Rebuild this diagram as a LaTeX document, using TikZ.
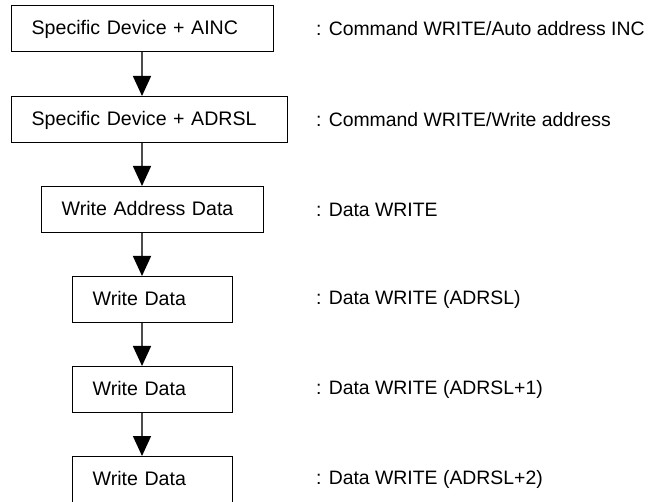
\documentclass[tikz,border=0pt]{standalone}
\usepackage{fontspec}
\setmainfont{Liberation Sans}
\usetikzlibrary{arrows.meta}
\begin{document}
\begin{tikzpicture}[x=1pt,y=-1pt,
  box/.style={draw=black, line width=1.3pt, minimum height=46pt, inner xsep=20pt, inner ysep=0pt,
    align=left, anchor=north west, text depth=3pt, text height=14pt, font=\fontsize{19.6}{23}\selectfont},
  lbl/.style={anchor=west, inner sep=0pt, font=\fontsize{19.4}{23}\selectfont},
  arr/.style={draw=black!70, line width=1.5pt, -{Triangle[width=18pt,length=20pt,color=black]}}]
\useasboundingbox (0,0) rectangle (653,502);
\coordinate (ax) at (142,0);
\coordinate (lx) at (316,0);
\node[box, text width=222pt] (b1) at (11,5) {Specific Device + AINC};
\node[box, text width=236pt] (b2) at (11,96) {Specific Device + ADRSL};
\node[box, text width=182pt] (b3) at (41,186) {Write Address Data};
\node[box, text width=120pt] (b4) at (72,276) {Write Data};
\node[box, text width=120pt] (b5) at (72,366) {Write Data};
\node[box, text width=120pt] (b6) at (72,456) {Write Data};
\draw[arr] (b1.south -| ax) -- (b2.north -| ax);
\draw[arr] (b2.south -| ax) -- (b3.north -| ax);
\draw[arr] (b3.south -| ax) -- (b4.north -| ax);
\draw[arr] (b4.south -| ax) -- (b5.north -| ax);
\draw[arr] (b5.south -| ax) -- (b6.north -| ax);
\node[lbl] (l1) at (b1.east -| lx) {: Command WRITE/Auto address INC};
\node[lbl] (l2) at (b2.east -| lx) {: Command WRITE/Write address};
\node[lbl] (l3) at (b3.east -| lx) {: Data WRITE};
\node[lbl] (l4) at (b4.east -| lx) {: Data WRITE (ADRSL)};
\node[lbl] (l5) at (b5.east -| lx) {: Data WRITE (ADRSL+1)};
\node[lbl] (l6) at (b6.east -| lx) {: Data WRITE (ADRSL+2)};
\end{tikzpicture}
\end{document}
